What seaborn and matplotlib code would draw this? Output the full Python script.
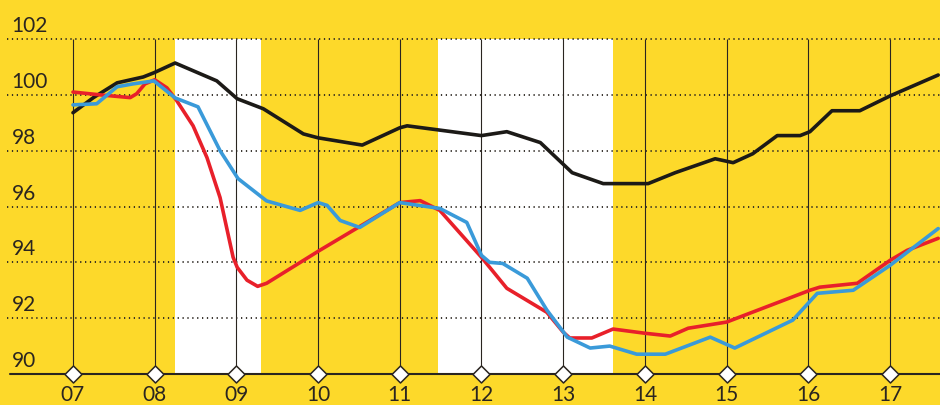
import pandas as pd
import numpy as np
import seaborn as sns
import matplotlib.pyplot as plt

# values (x in years since 2000)
black_x = [7.0, 7.25, 7.54, 7.86, 7.99, 8.25, 8.76, 9.01, 9.33, 9.82, 10.0, 10.54,
           11.0, 11.09, 12.0, 12.31, 12.72, 13.11, 13.49, 14.04, 14.37, 14.86,
           15.08, 15.32, 15.62, 15.90, 16.02, 16.29, 16.63, 17.0, 17.59]
black_y = [99.36, 99.9, 100.43, 100.64, 100.79, 101.14, 100.5, 99.86, 99.5, 98.6, 98.46, 98.2,
           98.82, 98.89, 98.54, 98.68, 98.29, 97.21, 96.82, 96.82, 97.21, 97.71,
           97.57, 97.89, 98.54, 98.54, 98.68, 99.43, 99.43, 99.96, 100.71]

red_x = [7.0, 7.33, 7.70, 7.78, 7.88, 8.00, 8.15, 8.27, 8.47, 8.64, 8.80, 8.96, 9.01,
         9.13, 9.26, 9.37, 10.02, 11.0, 11.25, 11.49, 12.0, 12.31, 12.80, 13.0, 13.08,
         13.35, 13.61, 14.0, 14.31, 14.53, 15.0, 16.02, 16.14, 16.6, 17.0, 17.21, 17.59]
red_y = [100.1, 100.0, 99.9, 100.04, 100.39, 100.54, 100.25, 99.79, 98.89, 97.75, 96.32, 94.18, 93.82,
         93.36, 93.14, 93.25, 94.43, 96.14, 96.21, 95.86, 94.18, 93.07, 92.21, 91.5, 91.29,
         91.29, 91.61, 91.46, 91.36, 91.64, 91.86, 93.0, 93.11, 93.25, 94.07, 94.43, 94.86]

blue_x = [7.0, 7.29, 7.54, 7.73, 7.99, 8.25, 8.53, 8.80, 9.02, 9.37, 9.78, 10.0, 10.11,
          10.27, 10.51, 11.0, 11.49, 11.82, 12.0, 12.10, 12.26, 12.56, 12.80, 13.05, 13.33,
          13.57, 13.90, 14.25, 14.80, 15.10, 15.81, 16.11, 16.55, 17.0, 17.59]
blue_y = [99.64, 99.68, 100.29, 100.39, 100.5, 99.89, 99.57, 98.0, 97.0, 96.2, 95.86, 96.14, 96.04,
          95.5, 95.25, 96.14, 95.93, 95.43, 94.25, 94.0, 93.96, 93.43, 92.29, 91.32, 90.93,
          91.0, 90.71, 90.71, 91.32, 90.93, 91.93, 92.89, 93.0, 93.89, 95.21]

years = list(range(7, 18))
year_labels = [f"{y:02d}" for y in years]
y_ticks = [90, 92, 94, 96, 98, 100, 102]
bands = [(8.25, 9.30), (11.47, 13.61)]

yellow = "#FDD92A"
colors = {"black": "#1c1a17", "red": "#E8202A", "blue": "#3A9AD9"}

df = pd.concat([
    pd.DataFrame({"year": black_x, "value": black_y, "series": "black"}),
    pd.DataFrame({"year": red_x, "value": red_y, "series": "red"}),
    pd.DataFrame({"year": blue_x, "value": blue_y, "series": "blue"}),
])

sns.set_style("white")
plt.rcParams["font.family"] = ["Lato", "DejaVu Sans"]

fig = plt.figure(figsize=(9.4, 4.05), dpi=100, facecolor=yellow)
ax = fig.add_axes([10 / 940, 31 / 405, 930 / 940, 335 / 405])
ax.set_facecolor(yellow)

for a, b in bands:
    ax.axvspan(a, b, color="white", lw=0, zorder=0)

# grid
for v in y_ticks[1:]:
    ax.axhline(v, color="#2a2520", lw=1.3, ls=(0, (0.7, 2.0)), zorder=1, xmin=-0.003, clip_on=False)
ax.vlines(years, 90, 102, color="#2a2520", lw=0.8, zorder=1)

sns.lineplot(data=df, x="year", y="value", hue="series", palette=colors,
             estimator=None, sort=False, lw=2.6, legend=False, ax=ax, zorder=3)
for line in ax.get_lines():
    line.set_solid_joinstyle("round")
    line.set_solid_capstyle("round")

ax.axhline(90, color="#2a2520", lw=1.5, zorder=4, clip_on=False)
ax.scatter(years, [90] * len(years), marker="D", s=75, facecolor="white",
           edgecolor="#2a2520", linewidth=1.1, zorder=5, clip_on=False)

for v in y_ticks:
    ax.text(6.25, v + 0.25, str(v), fontsize=15, color="#2a2520", va="baseline", ha="left",
            clip_on=False)

ax.set_xlim(6.229, 17.612)
ax.set_ylim(90, 102)
ax.set_xticks(years)
ax.set_xticklabels(year_labels, fontsize=15, color="#2a2520")
ax.tick_params(axis="x", length=0, pad=8)
ax.set_yticks([])
ax.set_xlabel("")
ax.set_ylabel("")
for s in ax.spines.values():
    s.set_visible(False)

fig.savefig("out.png", dpi=100, facecolor=yellow)
